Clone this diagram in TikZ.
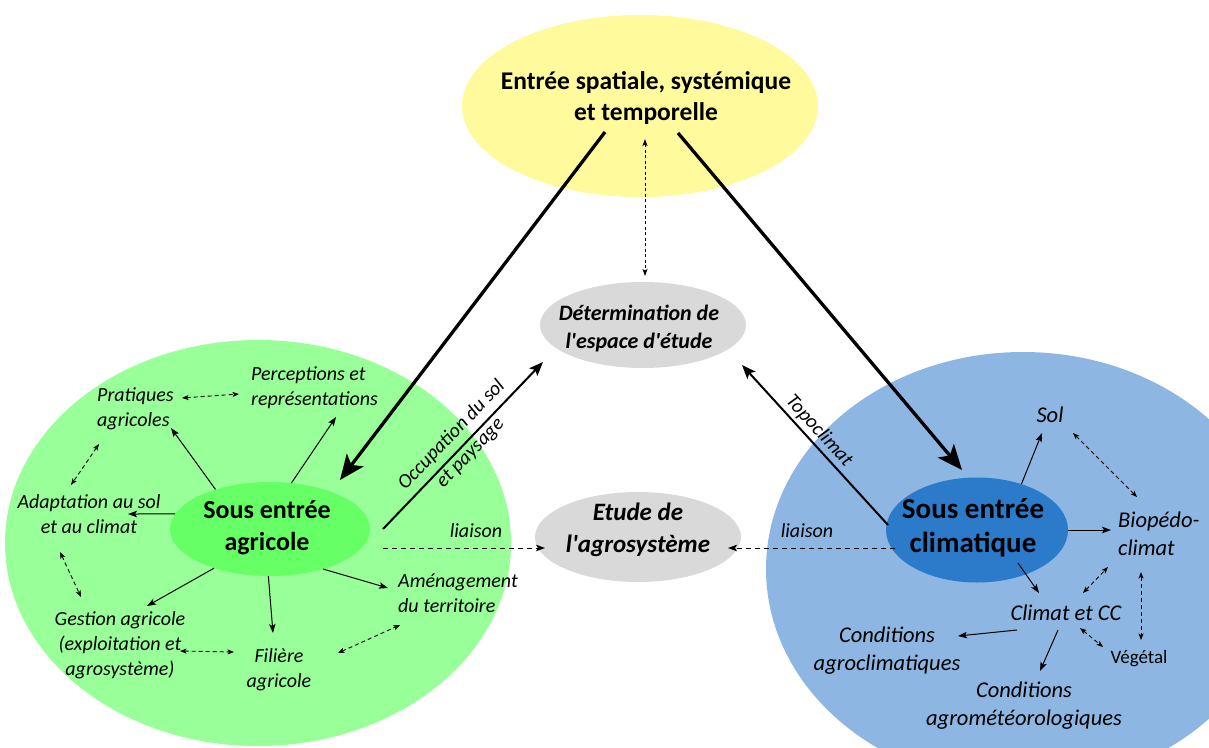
\documentclass[tikz,border=0pt]{standalone}
\usepackage{fontspec}
\setmainfont{Carlito}[Ligatures=TeXOff]
\usetikzlibrary{arrows.meta,shapes.geometric}
\definecolor{yellowF}{RGB}{255,250,155}
\definecolor{grayF}{RGB}{217,217,217}
\definecolor{greenO}{RGB}{153,255,153}
\definecolor{greenI}{RGB}{102,255,102}
\definecolor{blueO}{RGB}{141,182,226}
\definecolor{blueI}{RGB}{43,123,202}
\newcommand\txtl[1]{\begin{tabular}[t]{@{}l@{}}#1\end{tabular}}
\newcommand\txtc[1]{\begin{tabular}[t]{@{}c@{}}#1\end{tabular}}
\begin{document}
\begin{tikzpicture}[x=1pt,y=-1pt,
  ell/.style={ellipse, draw=none, inner sep=0pt},
  txt/.style={inner sep=0pt, anchor=base},
  ttl/.style={txt, font=\fontsize{25.5}{31}\selectfont\bfseries},
  subt/.style={txt, font=\fontsize{22}{28}\selectfont\bfseries\itshape},
  subtb/.style={txt, font=\fontsize{25}{32}\selectfont\bfseries\itshape},
  inA/.style={txt, font=\fontsize{26}{32}\selectfont\bfseries},
  inC/.style={txt, font=\fontsize{29}{34}\selectfont\bfseries},
  lblL/.style={txt, font=\fontsize{20}{25}\selectfont\itshape},
  lblR/.style={txt, font=\fontsize{22.5}{28}\selectfont\itshape},
  lblS/.style={inner sep=0pt, font=\fontsize{20}{26}\selectfont\itshape},
  lblV/.style={txt, font=\fontsize{19}{23}\selectfont},
  bigarr/.style={line width=3.3pt, -{Stealth[length=25pt,width=21pt,inset=6pt]}},
  medarr/.style={line width=2pt, -{Stealth[length=14pt,width=11pt,inset=3pt]}},
  smarr/.style={line width=1pt, -{Stealth[length=9pt,width=6.5pt,inset=2pt]}},
  dsharr/.style={line width=0.9pt, dash pattern=on 4pt off 3pt,
    {Stealth[length=6.5pt,width=5pt,inset=1.5pt]}-{Stealth[length=6.5pt,width=5pt,inset=1.5pt]}},
  liarr/.style={line width=1pt, dash pattern=on 5pt off 4pt, -{Stealth[length=9pt,width=6.5pt,inset=2pt]}},
  vdash/.style={line width=0.9pt, dash pattern=on 3pt off 2.5pt,
    {Stealth[length=7pt,width=5pt,inset=1.5pt]}-{Stealth[length=7pt,width=5pt,inset=1.5pt]}}
]
\useasboundingbox (0,0) rectangle (1209,747);
\fill[white] (0,0) rectangle (1209,747);

% big background ellipses
\fill[greenO] (258,543) ellipse [x radius=253pt, y radius=203pt];
\fill[blueO] (1023,569) ellipse [x radius=257pt, y radius=217pt];

% main ellipses
\node[ell, fill=yellowF, minimum width=356pt, minimum height=182pt] (titleE) at (640,106) {};
\node[ttl] (title) at (646,89) {\txtc{Entrée spatiale, systémique\\et temporelle}};

\node[ell, fill=grayF, minimum width=206pt, minimum height=86pt] (detE) at (643,325) {};
\node[subt] (det) at (639,320) {\txtc{Détermination de\\l'espace d'étude}};

\node[ell, fill=grayF, minimum width=206pt, minimum height=90pt] (etuE) at (638,537) {};
\node[subtb] (etu) at (638,520) {\txtc{Etude de\\l'agrosystème}};

\node[ell, fill=greenI, minimum width=200pt, minimum height=94pt] (agri) at (270,529) {};
\node[inA] (agriT) at (267,518) {\txtc{Sous entrée\\agricole}};

\node[ell, fill=blueI, minimum width=182pt, minimum height=105pt] (clim) at (977,530) {};
\node[inC] (climT) at (973,518) {\txtc{Sous entrée\\climatique}};

% left labels
\node[lblL, anchor=base west] (prat) at (97,401) {\txtl{Pratiques\\agricoles}};
\node[lblL, anchor=base west] (perc) at (251,380) {\txtl{Perceptions et\\représentations}};
\node[lblL] (adap) at (89,508) {\txtc{Adaptation au sol\\et au climat}};
\node[lblL] (gest) at (120,625) {\txtc{Gestion agricole\\(exploitation et\\agrosystème)}};
\node[lblL] (fil) at (279,662) {\txtc{Filière\\agricole}};
\node[lblL, anchor=base west] (amen) at (398,587) {\txtl{Aménagement\\du territoire}};

% right labels
\node[lblR] (sol) at (1050,422) {Sol};
\node[lblR, anchor=base west] (bio) at (1118,527) {\txtl{Biopédo-\\climat}};
\node[lblR] (clcc) at (1066,620) {Climat et CC};
\node[lblR] (cagro) at (887,642) {\txtc{Conditions\\agroclimatiques}};
\node[lblR] (cmet) at (1024,697) {\txtc{Conditions\\agrométéorologiques}};
\node[lblV] (veg) at (1139,663) {Végétal};

% liaison labels
\node[lblS, anchor=base] (liaL) at (476,537) {liaison};
\node[lblS, anchor=base] (liaR) at (807,537) {liaison};

% coordinates (ports)
\coordinate (tL) at (605,132);
\coordinate (tR) at (678,133);
\coordinate (agriIn) at (340,480);
\coordinate (climIn) at (962,470);
\coordinate (tV) at (645,139);
\coordinate (detV) at (645,276);
\coordinate (occS) at (383,529);
\coordinate (occE) at (543,362);
\coordinate (topS) at (888,525);
\coordinate (topE) at (742,365);
\coordinate (liaLs) at (383,548);
\coordinate (liaLe) at (545,548);
\coordinate (liaRs) at (895,548);
\coordinate (liaRe) at (728,548);

% big arrows
\draw[bigarr] (tL) -- (agriIn);
\draw[bigarr] (tR) -- (climIn);
\draw[vdash] (tV) -- (detV);

% occupation / topoclimat
\draw[medarr] (occS) -- (occE);
\node[lblS, rotate=46] (occ) at (461,444) {\txtc{Occupation du sol\\et paysage}};
\draw[medarr] (topS) -- (topE);
\node[lblS, rotate=-47.6] (topo) at (819,431) {Topoclimat};

% liaison
\draw[liarr] (liaLs) -- (liaLe);
\draw[liarr] (liaRs) -- (liaRe);

% green small arrows
\coordinate (pPrat) at (171,428);
\coordinate (pPerc) at (336,417);
\coordinate (pAdap) at (128,514);
\coordinate (pGest) at (147,606);
\coordinate (pFil) at (273,633);
\coordinate (pAmen) at (388,588);
\draw[smarr] (agri.144) -- (pPrat);
\draw[smarr] (agri.65) -- (pPerc);
\draw[smarr] (agri.171) -- (pAdap);
\draw[smarr] (agri.215) -- (pGest);
\draw[smarr] (agri.268) -- (pFil);
\draw[smarr] (agri.323) -- (pAmen);

% green dashed
\coordinate (d1a) at (182,398); \coordinate (d1b) at (239,394);
\coordinate (d2a) at (99,444);  \coordinate (d2b) at (71,485);
\coordinate (d3a) at (60,552);  \coordinate (d3b) at (81,597);
\coordinate (d4a) at (180,651); \coordinate (d4b) at (234,652);
\coordinate (d5a) at (338,653); \coordinate (d5b) at (400,625);
\draw[dsharr] (d1a) -- (d1b);
\draw[dsharr] (d2a) -- (d2b);
\draw[dsharr] (d3a) -- (d3b);
\draw[dsharr] (d4a) -- (d4b);
\draw[dsharr] (d5a) -- (d5b);

% blue small arrows
\coordinate (pSol) at (1042,433);
\coordinate (pBio) at (1111,530);
\coordinate (cS) at (1018,563);
\coordinate (pClcc) at (1039,593);
\coordinate (c1s) at (1017,630); \coordinate (pCagro) at (958,636);
\coordinate (c2s) at (1058,630); \coordinate (pCmet) at (1040,671);
\draw[smarr] (clim.46) -- (pSol);
\draw[smarr] (clim.east) -- (pBio);
\draw[smarr] (cS) -- (pClcc);
\draw[smarr] (c1s) -- (pCagro);
\draw[smarr] (c2s) -- (pCmet);

% blue dashed
\coordinate (e1a) at (1073,433); \coordinate (e1b) at (1137,497);
\coordinate (e2a) at (1083,593); \coordinate (e2b) at (1108,567);
\coordinate (e3a) at (1141,572); \coordinate (e3b) at (1141,640);
\coordinate (e4a) at (1080,628); \coordinate (e4b) at (1103,647);
\draw[dsharr] (e1a) -- (e1b);
\draw[dsharr] (e2a) -- (e2b);
\draw[dsharr] (e3a) -- (e3b);
\draw[dsharr] (e4a) -- (e4b);
\end{tikzpicture}
\end{document}
